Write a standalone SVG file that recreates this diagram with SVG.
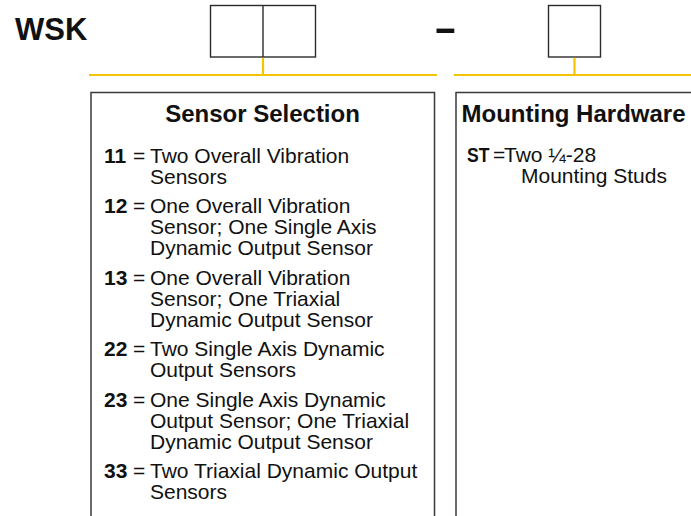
<svg xmlns="http://www.w3.org/2000/svg" width="691" height="516" viewBox="0 0 691 516">
<style>
text{font-family:"Liberation Sans",Arial,sans-serif;fill:#111}
.b{font-weight:bold}
.t{font-size:24px;font-weight:bold}
.d{font-size:21px}
.n{font-size:21px;font-weight:bold}
.box{fill:#fff;stroke:#2b2b2b;stroke-width:1.4}
.frame{fill:none;stroke:#3a3a3a;stroke-width:1.5}
.y{stroke:#F2C500;stroke-width:2.2;fill:none}
</style>
<rect width="691" height="516" fill="#fff"/>
<g id="header">
<text class="b" x="15" y="40" font-size="31">WSK</text>
<text class="b" x="0" y="40" font-size="36" transform="translate(433.8,0) scale(1.95,1)">-</text>
</g>
<g id="code-sensor">
<rect class="box" x="210.5" y="5.5" width="105" height="51.5"/>
<line x1="263" y1="5.5" x2="263" y2="57" stroke="#2b2b2b" stroke-width="1.4"/>
</g>
<g id="code-mounting">
<rect class="box" x="548.5" y="5.5" width="52" height="51.5"/>
</g>
<g id="connectors">
<path class="y" d="M263 57.7V75M89 75H437M574.5 57.7V75M454 75H691"/>
</g>
<g id="sensor-selection">
<rect class="frame" x="91" y="92.5" width="343.5" height="440"/>
<text class="t" x="262.5" y="121.5" text-anchor="middle">Sensor Selection</text>
<text class="n" x="104" y="162.5">11</text><text class="d" x="133" y="162.5">=</text>
<text class="d" x="150" y="162.5">Two Overall Vibration</text>
<text class="d" x="150" y="183.5">Sensors</text>
<text class="n" x="104" y="213">12</text><text class="d" x="133" y="213">=</text>
<text class="d" x="150" y="213">One Overall Vibration</text>
<text class="d" x="150" y="234">Sensor; One Single Axis</text>
<text class="d" x="150" y="255">Dynamic Output Sensor</text>
<text class="n" x="104" y="284.5">13</text><text class="d" x="133" y="284.5">=</text>
<text class="d" x="150" y="284.5">One Overall Vibration</text>
<text class="d" x="150" y="305.5">Sensor; One Triaxial</text>
<text class="d" x="150" y="326.5">Dynamic Output Sensor</text>
<text class="n" x="104" y="356">22</text><text class="d" x="133" y="356">=</text>
<text class="d" x="150" y="356">Two Single Axis Dynamic</text>
<text class="d" x="150" y="377">Output Sensors</text>
<text class="n" x="104" y="406.5">23</text><text class="d" x="133" y="406.5">=</text>
<text class="d" x="150" y="406.5">One Single Axis Dynamic</text>
<text class="d" x="150" y="427.5">Output Sensor; One Triaxial</text>
<text class="d" x="150" y="448.5">Dynamic Output Sensor</text>
<text class="n" x="104" y="478">33</text><text class="d" x="133" y="478">=</text>
<text class="d" x="150" y="478">Two Triaxial Dynamic Output</text>
<text class="d" x="150" y="499">Sensors</text>
</g>
<g id="mounting-hardware">
<rect class="frame" x="456" y="92.5" width="260" height="440"/>
<text class="t" x="461.5" y="121.5">Mounting Hardware</text>
<text class="n" x="467" y="162" textLength="22.5" lengthAdjust="spacingAndGlyphs">ST</text>
<text class="d" x="493" y="162" font-size="16">=</text>
<text class="d" x="504" y="162">Two ¼-28</text>
<text class="d" x="521" y="183">Mounting Studs</text>
</g>
</svg>
